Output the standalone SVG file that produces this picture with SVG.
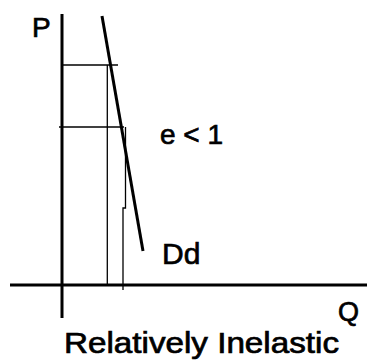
<svg xmlns="http://www.w3.org/2000/svg" width="367" height="360" viewBox="0 0 367 360">
<style>
.t{font-family:"Liberation Sans",Arial,sans-serif;fill:#000;stroke:#000;stroke-width:0.7}
.thin{stroke:#000;stroke-width:1.3;fill:none}
.thick{stroke:#000;stroke-width:3;fill:none}
</style>
<rect width="367" height="360" fill="#fff"/>
<g id="connectors">
<line class="thin" x1="62" y1="65" x2="118" y2="65"/>
<line class="thin" x1="59" y1="127" x2="124" y2="127"/>
<line class="thin" x1="107.3" y1="65" x2="107.3" y2="285"/>
<polyline class="thin" points="125.5,127 125.5,208 123,208 123,290"/>
</g>
<g id="axes">
<line class="thick" x1="62" y1="14" x2="62" y2="318"/>
<line class="thick" x1="10" y1="285" x2="367" y2="285"/>
</g>
<g id="demand">
<line class="thick" x1="102" y1="16" x2="143" y2="251"/>
</g>
<g id="labels">
<text class="t" x="32" y="37" font-size="28">P</text>
<text class="t" x="338" y="321" font-size="27">Q</text>
<text class="t" x="160" y="144" font-size="28">e &lt; 1</text>
<text class="t" x="162" y="264" font-size="30">Dd</text>
<text class="t" x="64" y="353" font-size="29" textLength="275" lengthAdjust="spacingAndGlyphs">Relatively Inelastic</text>
</g>
</svg>
